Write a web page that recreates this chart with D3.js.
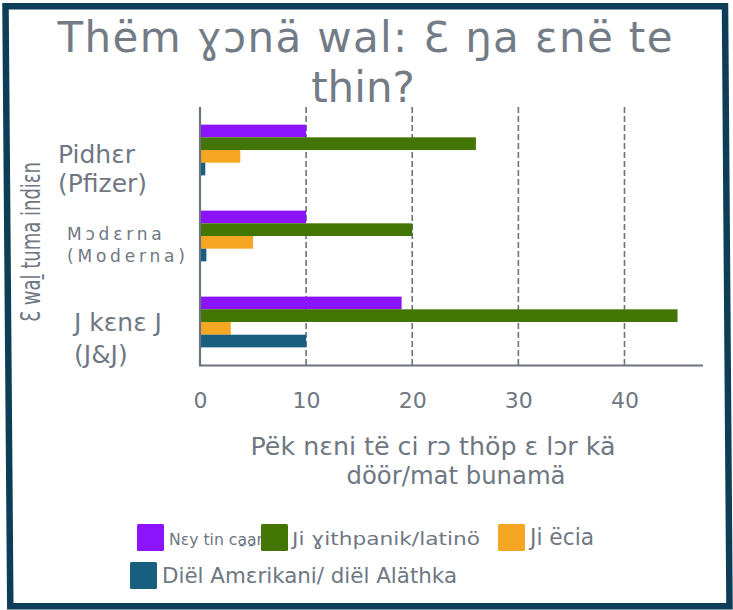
<!DOCTYPE html>
<html>
<head>
<meta charset="utf-8">
<script src="https://cdn.jsdelivr.net/npm/d3@7"></script>
<style>
  body { margin: 0; background: white; }
  text { font-family: "DejaVu Sans", sans-serif; fill: #6e7782; }
</style>
</head>
<body>
<script>
// data
const vaccines = ["Pfizer", "Moderna", "J&J"];
const groups = ["purple", "green", "orange", "blue"];
const seriesNames = ["Nɛy tin ca̱a̱r", "Ji ɣithpanik/latinö", "Ji ëcia", "Diël Amɛrikani/ diël Aläthka"];
const purpleVals = [10, 10, 19];
const greenVals = [26, 20, 45];
const orangeVals = [3.8, 5, 2.9];
const blueVals = [0.5, 0.6, 10];
const xTicks = [0, 10, 20, 30, 40];
const colors = ["#8c14fc", "#437504", "#f5a623", "#175e7f"];

const W = 733, H = 610;
const margin = { left: 200, top: 107, right: 703, bottom: 365 };

const svg = d3.select("body").append("svg")
    .attr("width", W)
    .attr("height", H);

// frame
svg.append("path")
    .attr("d", "M5.5,6.2 L725,6.2 L729.5,606.3 L10.3,606.3 Z")
    .attr("fill", "none")
    .attr("stroke", "#0e3d58")
    .attr("stroke-width", 6.5)
    .attr("stroke-linejoin", "miter");

const x = d3.scaleLinear().domain([0, 47.4]).range([margin.left, margin.right]);
const y = d3.scaleBand().domain(vaccines).range([margin.top, margin.bottom])
    .paddingInner(0.41).paddingOuter(0.205);
const yInner = d3.scaleBand().domain(groups).range([0, y.bandwidth()]);

// grid lines
svg.append("g").selectAll("line")
    .data(xTicks.filter(d => d > 0))
    .join("line")
    .attr("x1", d => x(d)).attr("x2", d => x(d))
    .attr("y1", margin.top).attr("y2", margin.bottom)
    .attr("stroke", "#6b737c")
    .attr("stroke-width", 1.6)
    .attr("stroke-dasharray", "6,3");

// bars
const rows = vaccines.map((v, i) => ({
    vaccine: v,
    values: [purpleVals[i], greenVals[i], orangeVals[i], blueVals[i]]
}));

svg.append("g").selectAll("g")
    .data(rows)
    .join("g")
    .attr("transform", d => `translate(0,${y(d.vaccine)})`)
    .selectAll("rect")
    .data(d => d.values.map((v, j) => ({ key: groups[j], value: v, color: colors[j] })))
    .join("rect")
    .attr("x", x(0))
    .attr("y", d => yInner(d.key))
    .attr("width", d => x(d.value) - x(0))
    .attr("height", yInner.bandwidth())
    .attr("fill", d => d.color);

// axes lines
svg.append("line")
    .attr("x1", x(0)).attr("x2", x(0))
    .attr("y1", margin.top).attr("y2", margin.bottom + 1)
    .attr("stroke", "#6b737c").attr("stroke-width", 2.2);
svg.append("line")
    .attr("x1", x(0) - 1).attr("x2", margin.right)
    .attr("y1", margin.bottom + 0.5).attr("y2", margin.bottom + 0.5)
    .attr("stroke", "#6b737c").attr("stroke-width", 2.2);

// x tick labels
const xAxis = d3.axisBottom(x).tickValues(xTicks).tickSize(0).tickPadding(0);
const gx = svg.append("g")
    .attr("transform", `translate(0,${margin.bottom})`)
    .call(xAxis);
gx.select(".domain").remove();
gx.selectAll("text")
    .attr("dy", null)
    .attr("y", 43)
    .style("font-size", "22px")
    .style("font-family", "DejaVu Sans")
    .style("fill", "#6e7782");

// category labels
const catLabels = {
    "Pfizer": { lines: ["Pidhɛr", "(Pfizer)"], x: 58, dy: [38, 67.5], size: 25, ls: 0 },
    "Moderna": { lines: ["Mɔdɛrna", "(Moderna)"], x: 67, dy: [29, 51.5], size: 17, ls: 3.8 },
    "J&J": { lines: ["J kɛnɛ J", "(J&J)"], x: 74, dy: [34, 66], size: 25, ls: 0 }
};
vaccines.forEach(v => {
    const c = catLabels[v];
    c.lines.forEach((line, k) => {
        svg.append("text")
            .attr("x", c.x)
            .attr("y", y(v) + c.dy[k])
            .style("font-size", c.size + "px")
            .style("letter-spacing", c.ls + "px")
            .text(line);
    });
});

// title
svg.append("text")
    .attr("x", 365).attr("y", 52)
    .attr("text-anchor", "middle")
    .style("font-size", "42px")
    .style("fill", "#737c86")
    .attr("textLength", 615)
    .attr("lengthAdjust", "spacing")
    .text("Thëm ɣɔnä wal: Ɛ ŋa ɛnë te");
svg.append("text")
    .attr("x", 363).attr("y", 101.5)
    .attr("text-anchor", "middle")
    .style("font-size", "42px")
    .style("fill", "#737c86")
    .text("thin?");

// y axis title
svg.append("text")
    .attr("transform", "translate(40,242) rotate(-90)")
    .attr("text-anchor", "middle")
    .style("font-size", "27px")
    .attr("textLength", 160)
    .attr("lengthAdjust", "spacingAndGlyphs")
    .text("Ɛ waḻ tuma indiɛn");

// x axis title
svg.append("text")
    .attr("x", 433).attr("y", 455)
    .attr("text-anchor", "middle")
    .style("font-size", "25px")
    .attr("textLength", 365)
    .attr("lengthAdjust", "spacingAndGlyphs")
    .text("Pëk nɛni të ci rɔ thöp ɛ lɔr kä");
svg.append("text")
    .attr("x", 456).attr("y", 484)
    .attr("text-anchor", "middle")
    .style("font-size", "25px")
    .attr("textLength", 219)
    .attr("lengthAdjust", "spacingAndGlyphs")
    .text("döör/mat bunamä");

// legend
const legendLayout = [
    { x: 137, y: 524, size: 15.5, ls: 0, len: 94 },
    { x: 261, y: 524, size: 17, ls: 2.3, len: 188 },
    { x: 498, y: 524, size: 23, ls: 0, len: 64 },
    { x: 130, y: 562, size: 22, ls: 0, len: 295 }
];
const legend = svg.append("g").selectAll("g")
    .data(seriesNames.map((name, i) => ({ name, color: colors[i], pos: legendLayout[i] })))
    .join("g")
    .attr("transform", d => `translate(${d.pos.x},${d.pos.y})`);
legend.append("rect")
    .attr("width", 27).attr("height", 27).attr("rx", 1.5)
    .attr("fill", d => d.color);
legend.append("text")
    .attr("x", d => d.pos.ls ? 31 : 32)
    .attr("y", 20.5)
    .style("font-size", d => d.pos.size + "px")
    .attr("textLength", d => d.pos.len)
    .attr("lengthAdjust", "spacingAndGlyphs")
    .text(d => d.name);
</script>
</body>
</html>
